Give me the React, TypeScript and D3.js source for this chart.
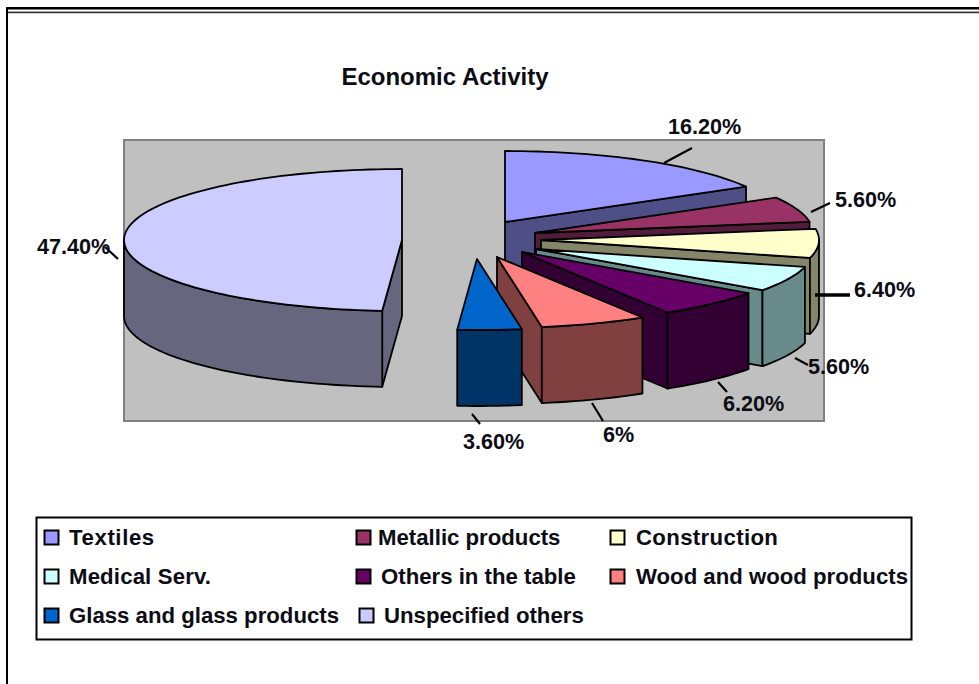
import React from "react";
import * as d3 from "d3";

const categories = ["Textiles", "Metallic products", "Construction", "Medical Serv.", "Others in the table", "Wood and wood products", "Glass and glass products", "Unspecified others"];
const shares = [16.2, 5.6, 6.4, 5.6, 6.2, 6, 3.6, 47.4];
const shareLabels = ["16.20%", "5.60%", "6.40%", "5.60%", "6.20%", "6%", "3.60%", "47.40%"];
const topColors = ["#9999FF", "#993366", "#FFFFCC", "#CCFFFF", "#660066", "#FF8080", "#0066CC", "#CCCCFF"];
const wallColors = ["#4F4F88", "#521C3A", "#85856A", "#688A8A", "#330033", "#804040", "#003366", "#66667F"];

// layout: where each exploded slice's apex sits on the page
const apexX = [505, 535, 541, 536, 522, 497, 477, 402];
const apexY = [222, 233, 240, 249, 252, 257, 259, 240];
const labelX = [668, 835, 854, 808, 723, 603, 463, 37];
const labelY = [134, 207, 297, 374, 411, 442, 449, 254];
const leaders = [
  [664, 163, 692, 148, 2.2], [811, 212, 830, 203, 2.2], [815, 295, 850, 295, 3.6], [795, 358, 808, 365, 2.2],
  [718, 382, 727, 392, 2.2], [592, 403, 603, 421, 2.2], [472, 414, 480, 424, 2.2], [105, 247, 118, 259, 2.2],
];
const legendSwatchX = [44.5, 356.5, 610.5, 44.5, 356.5, 610.5, 44.5, 359.5];
const legendTextX = [69, 378, 636, 69, 381, 636, 69, 384];
const legendRowY = [545, 584, 623];
const legendSpacing = [0.6, 0, 0.35, 0.15, 0, 0, 0, 0];

const RX = 278, RY = 71, DEPTH = 76;
const FONT = "'Liberation Sans', Arial, sans-serif";
const INK = "#0c0c14";

const arcs = d3.pie<number>().sort(null).value((d) => d)(shares);

function arcSamples(a0: number, a1: number): number[] {
  const n = Math.max(2, Math.ceil(Math.abs(a1 - a0) / 0.03));
  return d3.range(n + 1).map((i) => a0 + ((a1 - a0) * i) / n);
}

function Slice({ i }: { i: number }) {
  const { startAngle: a0, endAngle: a1 } = arcs[i];
  const cx = apexX[i], cy = apexY[i];
  const sx = d3.scaleLinear().domain([0, 1]).range([cx, cx + RX]);
  const sy = d3.scaleLinear().domain([0, 1]).range([cy, cy + RY]);
  const pt = (a: number, dz = 0): [number, number] => [sx(Math.sin(a)), sy(-Math.cos(a)) + dz];
  const line = d3.line();
  const stroke = { stroke: "#000", strokeWidth: 1.8, strokeLinejoin: "round" as const };
  const walls: React.ReactNode[] = [];
  // a radial wall faces the viewer when its outward normal points down the page
  const radial = (a: number) => [[cx, cy], pt(a), pt(a, DEPTH), [cx, cy + DEPTH]] as [number, number][];
  if (-Math.cos(a0 - Math.PI / 2) > 0.001) walls.push(<path key="s" d={line(radial(a0))! + "Z"} fill={wallColors[i]} {...stroke} />);
  if (-Math.cos(a1 + Math.PI / 2) > 0.001) walls.push(<path key="e" d={line(radial(a1))! + "Z"} fill={wallColors[i]} {...stroke} />);
  const f0 = Math.max(a0, Math.PI / 2), f1 = Math.min(a1, 1.5 * Math.PI);
  if (f1 > f0) {
    const s = arcSamples(f0, f1);
    const poly = [...s.map((a) => pt(a)), ...s.slice().reverse().map((a) => pt(a, DEPTH))];
    walls.push(<path key="o" d={line(poly)! + "Z"} fill={wallColors[i]} {...stroke} />);
  }
  const top = [[cx, cy] as [number, number], ...arcSamples(a0, a1).map((a) => pt(a))];
  return (
    <g>
      {walls}
      <path d={line(top)! + "Z"} fill={topColors[i]} {...stroke} />
    </g>
  );
}

export default function App() {
  return (
    <svg width={979} height={684} style={{ position: "absolute", left: 0, top: 0, background: "#fff" }} fontFamily={FONT}>
      <line x1={6} y1={8.3} x2={979} y2={8.3} stroke="#000" strokeWidth={2.4} />
      <line x1={7} y1={11.5} x2={979} y2={11.5} stroke="#aaa" strokeWidth={1.2} />
      <line x1={7} y1={12.7} x2={979} y2={12.7} stroke="#333" strokeWidth={1.2} />
      <line x1={7} y1={7} x2={7} y2={684} stroke="#000" strokeWidth={2} />

      <text x={445} y={85} textAnchor="middle" fontSize={24} fontWeight="bold" fill={INK}>Economic Activity</text>

      <rect x={124} y={140} width={700} height={281} fill="#C0C0C0" stroke="#808080" strokeWidth={2} />

      {shares.map((_, i) => <Slice key={i} i={i} />)}

      {leaders.map(([x1, y1, x2, y2, w], i) => (
        <line key={i} x1={x1} y1={y1} x2={x2} y2={y2} stroke="#000" strokeWidth={w} />
      ))}
      {shareLabels.map((t, i) => (
        <text key={t + i} x={labelX[i]} y={labelY[i]} fontSize={21.6} fontWeight="bold" fill={INK}>{t}</text>
      ))}

      <rect x={36.5} y={517.5} width={875} height={122} fill="#fff" stroke="#000" strokeWidth={2} />
      {categories.map((c, i) => {
        const y = legendRowY[Math.floor(i / 3)];
        return (
          <g key={c}>
            <rect x={legendSwatchX[i]} y={y - 14.5} width={14} height={14} fill={topColors[i]} stroke="#000" strokeWidth={2} />
            <text x={legendTextX[i]} y={y} fontSize={22.2} fontWeight="bold" fill={INK} letterSpacing={legendSpacing[i]}>{c}</text>
          </g>
        );
      })}
    </svg>
  );
}
